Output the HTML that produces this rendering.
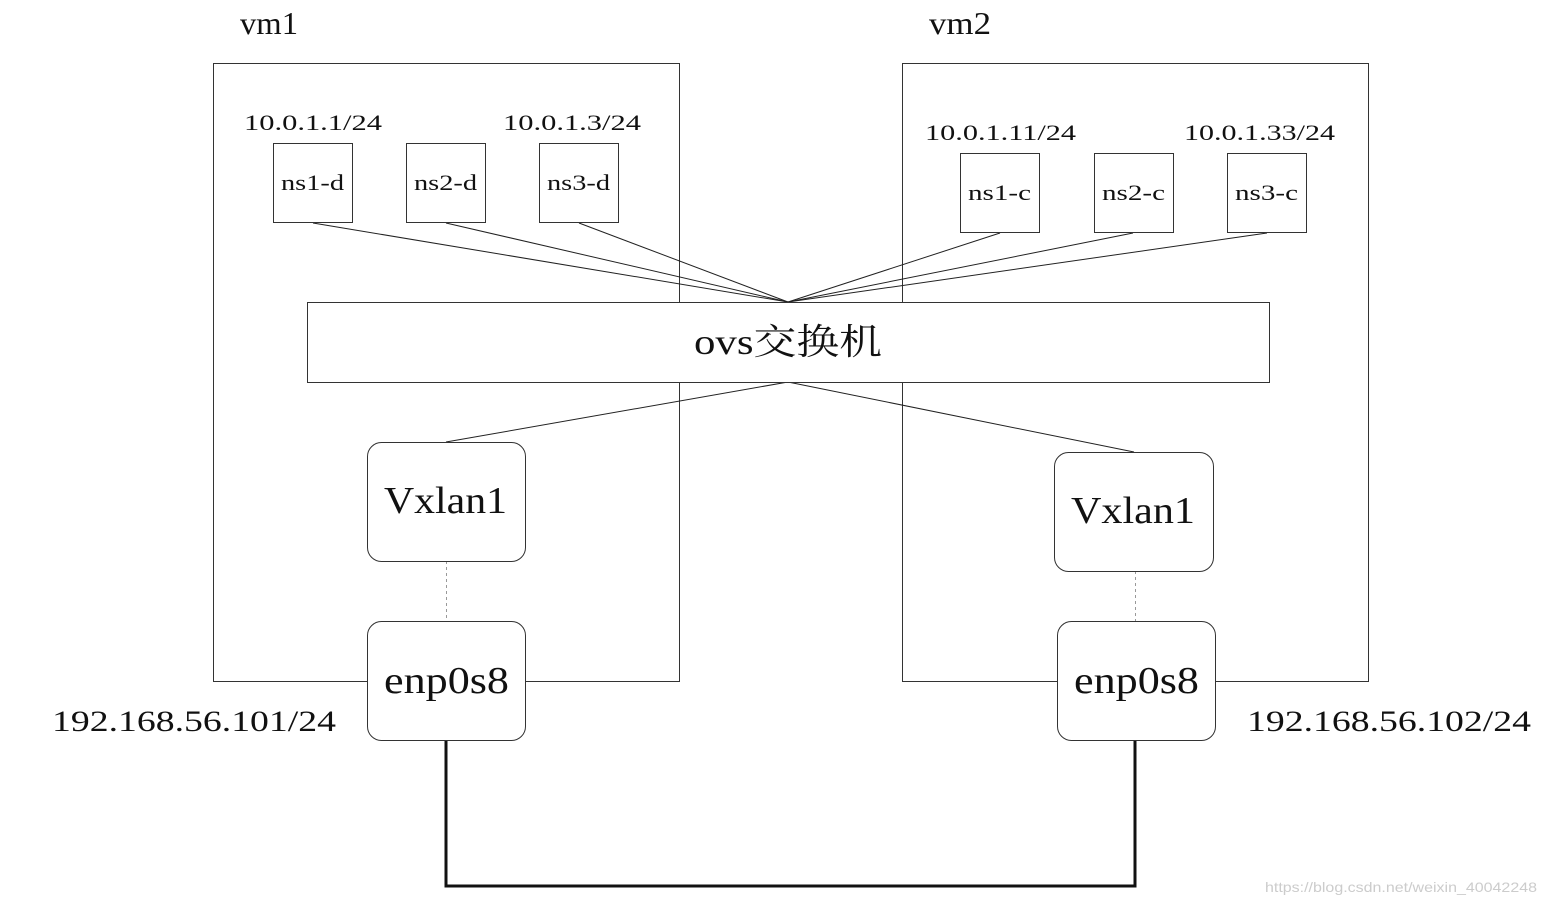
<!DOCTYPE html>
<html><head><meta charset="utf-8"><style>
html,body{margin:0;padding:0;background:#fff;}
svg{display:block;}
text{font-family:"Liberation Serif","Noto Serif CJK SC",serif;fill:#111;}
</style></head><body>
<svg width="1546" height="906" viewBox="0 0 1546 906" xmlns="http://www.w3.org/2000/svg">
<rect x="0" y="0" width="1546" height="906" fill="#fff"/>
<!-- vm boxes -->
<rect x="213.5" y="63.5" width="466" height="618" fill="none" stroke="#333" stroke-width="1"/>
<rect x="902.5" y="63.5" width="466" height="618" fill="none" stroke="#333" stroke-width="1"/>
<text x="240" y="34" font-size="32" textLength="58" lengthAdjust="spacingAndGlyphs">vm1</text>
<text x="929" y="34" font-size="32" textLength="62" lengthAdjust="spacingAndGlyphs">vm2</text>
<!-- lines to ovs -->
<g stroke="#222" stroke-width="1">
<line x1="313" y1="223" x2="788" y2="302"/>
<line x1="446" y1="223" x2="788" y2="302"/>
<line x1="579" y1="223" x2="788" y2="302"/>
<line x1="1000" y1="233" x2="788" y2="302"/>
<line x1="1133" y1="233" x2="788" y2="302"/>
<line x1="1267" y1="233" x2="788" y2="302"/>
<line x1="788" y1="382" x2="446" y2="442"/>
<line x1="788" y1="382" x2="1134" y2="452"/>
</g>
<!-- ns boxes -->
<g fill="#fff" stroke="#333" stroke-width="1">
<rect x="273.5" y="143.5" width="79" height="79"/>
<rect x="406.5" y="143.5" width="79" height="79"/>
<rect x="539.5" y="143.5" width="79" height="79"/>
<rect x="960.5" y="153.5" width="79" height="79"/>
<rect x="1094.5" y="153.5" width="79" height="79"/>
<rect x="1227.5" y="153.5" width="79" height="79"/>
</g>
<g font-size="22">
<text x="281" y="190" textLength="63" lengthAdjust="spacingAndGlyphs">ns1-d</text>
<text x="414" y="190" textLength="63" lengthAdjust="spacingAndGlyphs">ns2-d</text>
<text x="547" y="190" textLength="63" lengthAdjust="spacingAndGlyphs">ns3-d</text>
<text x="968" y="200" textLength="63" lengthAdjust="spacingAndGlyphs">ns1-c</text>
<text x="1102" y="200" textLength="63" lengthAdjust="spacingAndGlyphs">ns2-c</text>
<text x="1235" y="200" textLength="63" lengthAdjust="spacingAndGlyphs">ns3-c</text>
<text x="244" y="130" textLength="138" lengthAdjust="spacingAndGlyphs">10.0.1.1/24</text>
<text x="503" y="130" textLength="138" lengthAdjust="spacingAndGlyphs">10.0.1.3/24</text>
<text x="925" y="140" textLength="151" lengthAdjust="spacingAndGlyphs">10.0.1.11/24</text>
<text x="1184" y="140" textLength="151" lengthAdjust="spacingAndGlyphs">10.0.1.33/24</text>
</g>
<!-- ovs -->
<rect x="307.5" y="302.5" width="962" height="80" fill="#fff" stroke="#333" stroke-width="1"/>
<text x="694" y="354" font-size="36" textLength="188" lengthAdjust="spacingAndGlyphs">ovs交换机</text>
<!-- dashed -->
<line x1="446.5" y1="561" x2="446.5" y2="621" stroke="#999" stroke-dasharray="3,3"/>
<line x1="1135.5" y1="571" x2="1135.5" y2="621" stroke="#999" stroke-dasharray="3,3"/>
<!-- vxlan / enp -->
<g fill="#fff" stroke="#333" stroke-width="1">
<rect x="367.5" y="442.5" width="158" height="119" rx="14"/>
<rect x="1054.5" y="452.5" width="159" height="119" rx="14"/>
<rect x="367.5" y="621.5" width="158" height="119" rx="14"/>
<rect x="1057.5" y="621.5" width="158" height="119" rx="14"/>
</g>
<g font-size="38">
<text x="384" y="513" textLength="123" lengthAdjust="spacingAndGlyphs">Vxlan1</text>
<text x="1071" y="523" textLength="124" lengthAdjust="spacingAndGlyphs">Vxlan1</text>
<text x="384" y="693" textLength="125" lengthAdjust="spacingAndGlyphs">enp0s8</text>
<text x="1074" y="693" textLength="125" lengthAdjust="spacingAndGlyphs">enp0s8</text>
</g>
<g font-size="30">
<text x="52" y="731" textLength="284" lengthAdjust="spacingAndGlyphs">192.168.56.101/24</text>
<text x="1247" y="731" textLength="284" lengthAdjust="spacingAndGlyphs">192.168.56.102/24</text>
</g>
<!-- cable -->
<polyline points="446,741 446,886 1135,886 1135,741" fill="none" stroke="#111" stroke-width="3"/>
<text x="1265" y="892" font-size="14" style="font-family:'Liberation Sans',sans-serif;fill:#ccc" textLength="272" lengthAdjust="spacingAndGlyphs">https://blog.csdn.net/weixin_40042248</text>
</svg>
</body></html>
